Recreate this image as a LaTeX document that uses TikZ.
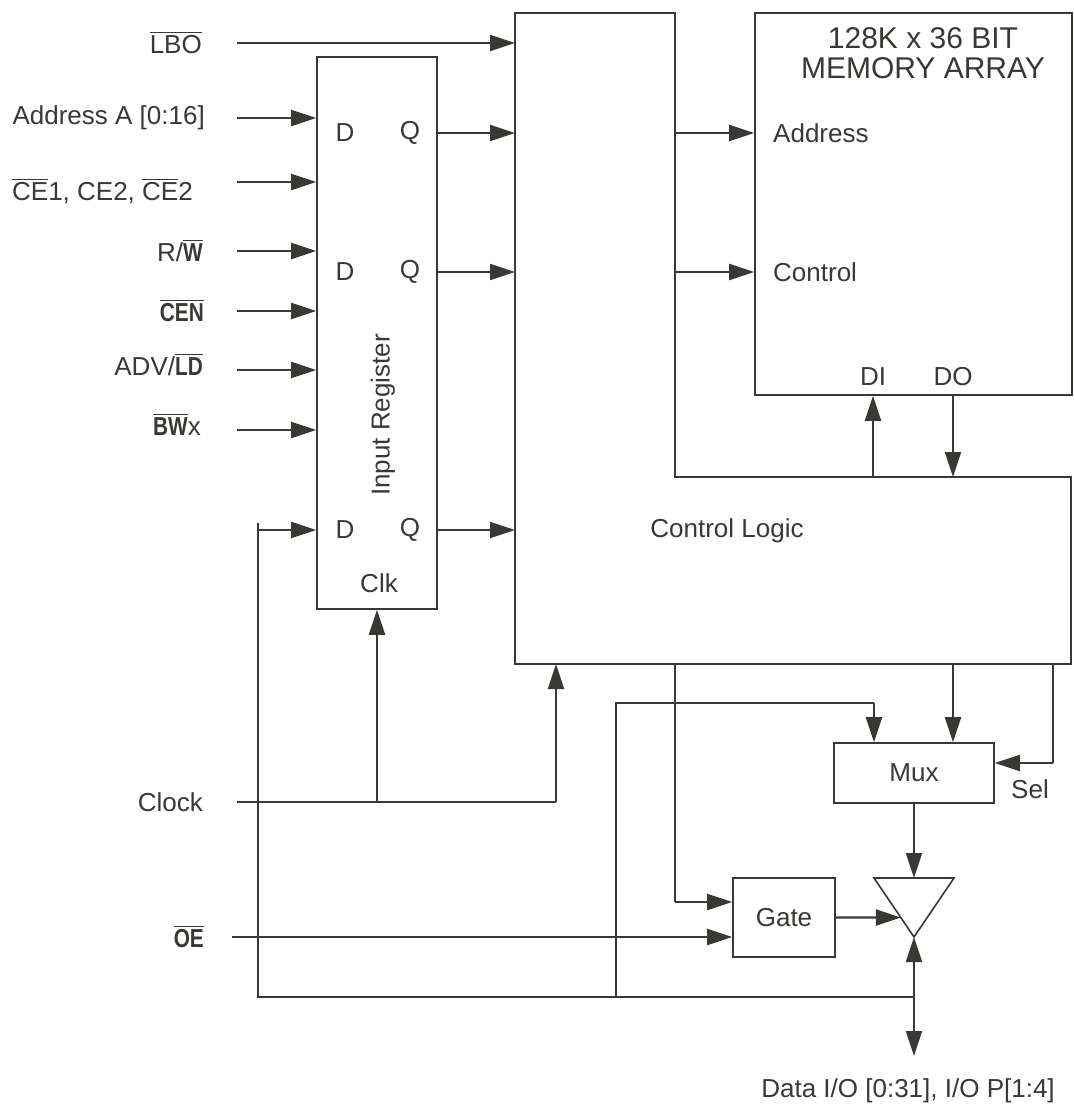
\documentclass[tikz,border=0pt]{standalone}
\usepackage{fontspec}
\setsansfont{Liberation Sans}
\newfontfamily\srcond{Liberation Sans}[FakeStretch=0.8]
\usepackage{tikz}
\usetikzlibrary{arrows.meta,calc,positioning}
\definecolor{srInk}{HTML}{383834}
\newcommand\ovl[1]{\vbox{\hrule height 1pt\kern 2.5pt\hbox{#1}}}
\newcommand\cbf[1]{{\srcond\bfseries #1}}
\tikzset{
  sr diagram/.style={font=\sffamily\fontsize{26}{30}\selectfont, text=srInk,
    x=1pt, y=-1pt, line join=miter},
  sr box/.style={draw=srInk, line width=1.6pt, inner sep=0pt},
  sr line/.style={draw=srInk, line width=1.5pt},
  sr arrow/.style={-{Triangle[length=25pt,width=16pt]}, draw=srInk, line width=2.1pt},
  sr both/.style={sr arrow, arrows={Triangle[length=25pt,width=16pt]-Triangle[length=25pt,width=16pt]}},
  sr pin/.style={inner sep=0pt, anchor=east},
  sr label/.style={inner sep=0pt}
}

\begin{document}
\begin{tikzpicture}[sr diagram]
\useasboundingbox (0,0) rectangle (1073,1105);
% blocks
\node[sr box, minimum width=120pt, minimum height=552pt] (reg) at (377,333) {};
\node[sr box, minimum width=317pt, minimum height=382pt] (mem) at (913.5,204) {};
\node[sr box, minimum width=160pt, minimum height=60pt] (mux) at (914,773) {Mux};
\node[sr box, minimum width=102pt, minimum height=79pt] (gate) at (784,917.5) {Gate};
% control logic outline
\coordinate (ctlNW) at (515,13);
\coordinate (ctlNE) at (675,13);
\coordinate (ctlIn) at (675,477);
\coordinate (ctlE) at (1071,477);
\coordinate (ctlSE) at (1071,664);
\coordinate (ctlSW) at (515,664);
\draw[sr box] (ctlNW) -- (ctlNE) -- (ctlIn) -- (ctlE) -- (ctlSE) -- (ctlSW) -- cycle;
\node[sr label] (ctl) at (727,531) {Control Logic};
% output buffer
\coordinate (bufL) at (874,878);
\coordinate (bufR) at (954,878);
\coordinate (bufT) at (914,937);
\draw[sr box] (bufL) -- (bufR) -- (bufT) -- cycle;
\coordinate (bufIn) at ($(bufL)!0.67!(bufT)$);

% input register
\foreach \i/\yy in {1/133,2/272,3/530}{
  \node[sr label] (d\i) at (345,\yy) {D};
  \node[sr label] (q\i) at (410,\yy) {Q};
  \draw[sr arrow] (reg.east |- d\i) -- (ctlNW |- d\i);
}
\node[sr label, rotate=90] (regName) at (383,415) {Input Register};
\node[sr label] (clk) at (379,583) {Clk};

% memory array
\node[sr label, align=center, anchor=north, font=\sffamily\fontsize{30}{30}\selectfont]
  (memName) at (923,27) {128K x 36 BIT\\MEMORY ARRAY};
\node[sr label, anchor=west] (mAddr) at (773,133) {Address};
\node[sr label, anchor=west] (mCtl) at (773,272) {Control};
\node[sr label] (lDI) at (873,377) {DI};
\node[sr label] (lDO) at (953,377) {DO};
\draw[sr arrow] (ctlNE |- mAddr.west) -- (mem.west |- mAddr.west);
\draw[sr arrow] (ctlNE |- mCtl.west) -- (mem.west |- mCtl.west);
\draw[sr arrow] (lDI |- ctlIn) -- (lDI |- mem.south);
\draw[sr arrow] (lDO |- mem.south) -- (lDO |- ctlIn);

% inputs
\coordinate (pLBO) at (237,43);
\draw[sr arrow] (pLBO) -- (ctlNW |- pLBO);
\node[sr pin, left=35pt of pLBO] (lLBO) {\ovl{LBO}};
\foreach \nm/\yy in {Addr/118,CE/182,RW/251,CEN/311,ADV/370,BW/430}{
  \coordinate (p\nm) at (237,\yy);
  \draw[sr arrow] (p\nm) -- (reg.west |- p\nm);
}
\node[sr pin, left=32pt of pAddr] (lAddr) {Address A [0:16]};
\node[sr pin, anchor=north east] (lCE) at ([xshift=-44pt,yshift=3pt]pCE) {\ovl{CE}1, CE2, \ovl{CE}2};
\node[sr pin, left=34pt of pRW] (lRW) {R/\ovl{\cbf{W}}};
\node[sr pin, left=33pt of pCEN] (lCEN) {\ovl{\cbf{CEN}}};
\node[sr pin, left=34pt of pADV, yshift=5pt] (lADV) {ADV/\ovl{\cbf{LD}}};
\node[sr pin, left=36pt of pBW, yshift=5pt] (lBW) {\ovl{\cbf{BW}}x};

% clock
\coordinate (pClk) at (237,802);
\coordinate (clkJ) at (556,802);
\node[sr pin, left=34pt of pClk] (lClk) {Clock};
\draw[sr line] (pClk) -- (clkJ);
\draw[sr arrow] (reg.south |- pClk) -- (reg.south);
\draw[sr arrow] (clkJ) -- (clkJ |- ctlSW);

% output enable and gate
\coordinate (pOE) at (232,937);
\coordinate (gCtl) at ([yshift=15.5pt]gate.west);
\node[sr pin, left=28pt of pOE] (lOE) {\ovl{\cbf{OE}}};
\draw[sr arrow] (pOE) -- (gate.west |- pOE);
\draw[sr line] (ctlNE |- ctlSW) -- (ctlNE |- gCtl);
\draw[sr arrow] (ctlNE |- gCtl) -- (gCtl);
\draw[sr arrow] (gate.east) -- (bufIn);

% mux
\coordinate (muxA) at ([xshift=-40pt]mux.north);
\coordinate (muxB) at ([xshift=39pt]mux.north);
\coordinate (sel) at ([yshift=10pt]mux.east);
\coordinate (selTop) at (1053,664);
\draw[sr arrow] (muxB |- ctlSW) -- (muxB);
\draw[sr line] (selTop) -- (selTop |- sel);
\draw[sr arrow] (selTop |- sel) -- (sel);
\node[sr label] (lSel) at (1030,789) {Sel};
\draw[sr arrow] (mux.south) -- (mux.south |- bufL);

% data bus loop back
\coordinate (busE) at (914,997);
\coordinate (busM) at (616,997);
\coordinate (busW) at (258,997);
\coordinate (busTop) at (258,523);
\coordinate (muxFeed) at (616,703);
\draw[sr line] (busE) -- (busW) -- (busTop);
\draw[sr arrow] (busW |- d3) -- (reg.west |- d3);
\draw[sr line] (busM) -- (muxFeed) -- (muxA |- muxFeed);
\draw[sr arrow] (muxA |- muxFeed) -- (muxA);
\coordinate (pData) at (914,1056);
\draw[sr both] (bufT) -- (pData);
\node[sr label, below=22pt of pData, xshift=-6pt] (lData) {Data I/O [0:31], I/O P[1:4]};
\end{tikzpicture}
\end{document}
